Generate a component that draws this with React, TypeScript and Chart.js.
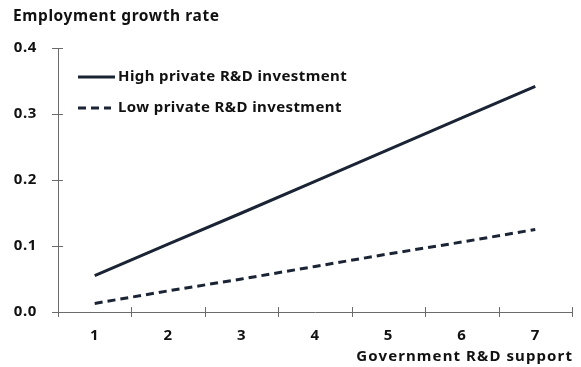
import React, { useEffect, useRef } from "react";
import { Chart, registerables } from "chart.js";

Chart.register(...registerables);

const categories = ["1", "2", "3", "4", "5", "6", "7"];
const highPrivate = [0.055, 0.103, 0.150, 0.198, 0.246, 0.294, 0.342];
const lowPrivate = [0.013, 0.032, 0.050, 0.069, 0.088, 0.106, 0.125];
const seriesNames = ["High private R&D investment", "Low private R&D investment"];
const yTitle = "Employment growth rate";
const xTitle = "Government R&D support";

const FONT = "'Noto Sans', sans-serif";
const LINE = "#1b2435";
const AXIS = "#6b6b6b";

const decorPlugin = {
  id: "decor",
  beforeDraw(chart: any) {
    chart.ctx.letterSpacing = "0.6px";
  },
  afterDraw(chart: any) {
    const ctx = chart.ctx;
    const area = chart.chartArea;
    const y = chart.scales.y;
    ctx.save();
    ctx.strokeStyle = AXIS;
    ctx.lineWidth = 1;
    y.ticks.forEach((_t: any, i: number) => {
      const py = Math.round(y.getPixelForTick(i)) + 0.5;
      ctx.beginPath();
      ctx.moveTo(area.left - 6, py);
      ctx.lineTo(area.left + 5, py);
      ctx.stroke();
    });
    const n = categories.length;
    for (let i = 0; i <= n; i++) {
      const px = Math.round(area.left + ((area.right - area.left) * i) / n) + 0.5;
      ctx.beginPath();
      ctx.moveTo(px, area.bottom - 5);
      ctx.lineTo(px, area.bottom + 5);
      ctx.stroke();
    }
    ctx.fillStyle = "#111";
    ctx.textBaseline = "middle";
    ctx.textAlign = "left";
    ctx.letterSpacing = "0.6px";
    ctx.font = `bold 15.5px ${FONT}`;
    ctx.fillText(yTitle, 13, 17);
    ctx.textAlign = "right";
    ctx.letterSpacing = "1.1px";
    ctx.font = `bold 15px ${FONT}`;
    ctx.fillText(xTitle, area.right + 1, 357);
    const ds = chart.data.datasets;
    const rows = [77, 108];
    ds.forEach((d: any, i: number) => {
      const ly = rows[i];
      ctx.strokeStyle = d.borderColor;
      ctx.lineWidth = d.borderWidth;
      ctx.setLineDash(d.borderDash || []);
      ctx.beginPath();
      ctx.moveTo(78, ly);
      ctx.lineTo(i === 0 ? 115 : 111, ly);
      ctx.stroke();
      ctx.setLineDash([]);
      ctx.fillStyle = "#111";
      ctx.letterSpacing = "0.4px";
      ctx.font = `bold 15px ${FONT}`;
      ctx.textAlign = "left";
      ctx.fillText(d.label, 118, ly);
    });
    ctx.restore();
  },
};

export default function App() {
  const ref = useRef<HTMLCanvasElement>(null);
  useEffect(() => {
    document.body.style.margin = "0";
    const chart = new Chart(ref.current as HTMLCanvasElement, {
      type: "line",
      data: {
        labels: categories,
        datasets: [
          {
            label: seriesNames[0],
            data: highPrivate,
            borderColor: LINE,
            borderWidth: 3,
            pointRadius: 0,
            fill: false,
            tension: 0,
          },
          {
            label: seriesNames[1],
            data: lowPrivate,
            borderColor: LINE,
            borderWidth: 3,
            borderDash: [8, 5],
            pointRadius: 0,
            fill: false,
            tension: 0,
          },
        ],
      },
      options: {
        animation: false,
        responsive: false,
        devicePixelRatio: 1,
        layout: { padding: { top: 48, right: 9, left: 0, bottom: 0 } },
        plugins: { legend: { display: false }, tooltip: { enabled: false }, title: { display: false } },
        scales: {
          x: {
            type: "category",
            offset: true,
            grid: { display: false, drawTicks: false, offset: true },
            border: { display: true, color: AXIS, width: 1 },
            afterFit: (s: any) => {
              s.height = 55;
            },
            ticks: {
              padding: 15,
              color: "#111",
              font: { family: FONT, size: 15, weight: "bold" },
              maxRotation: 0,
            },
          },
          y: {
            min: 0,
            max: 0.4,
            grid: { display: false, drawTicks: false },
            border: { display: true, color: AXIS, width: 1 },
            afterFit: (s: any) => {
              s.width = 58;
            },
            ticks: {
              stepSize: 0.1,
              padding: 21,
              color: "#111",
              font: { family: FONT, size: 15, weight: "bold" },
              callback: (v: any) => Number(v).toFixed(1),
            },
          },
        },
      },
      plugins: [decorPlugin],
    });
    return () => chart.destroy();
  }, []);
  return (
    <div style={{ position: "absolute", left: 0, top: 0, width: 581, height: 367 }}>
      <canvas ref={ref} width={581} height={367} style={{ width: 581, height: 367 }} />
    </div>
  );
}
